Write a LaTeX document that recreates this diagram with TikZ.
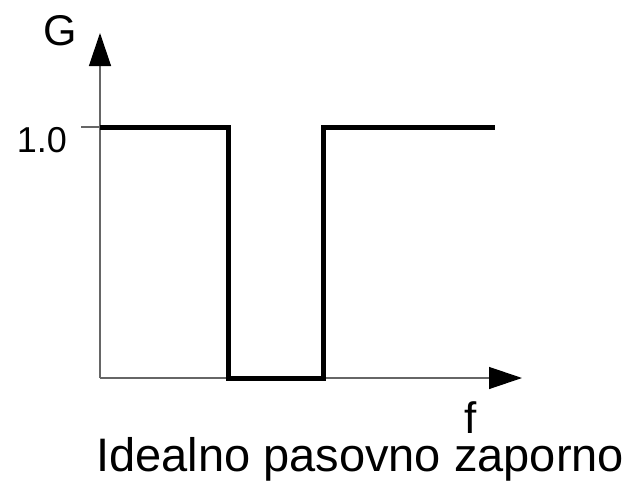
\documentclass[tikz,border=0pt]{standalone}
\usepackage{fontspec}
\setmainfont{Liberation Sans}
\usetikzlibrary{arrows.meta}
\begin{document}
\begin{tikzpicture}[x=1pt,y=-1pt,
  axis/.style={draw=black!60,line width=1.3pt,-{Triangle[length=33pt,width=22pt,fill=black,color=black]}},
  curve/.style={draw=black,line width=5pt,line join=miter},
  tickline/.style={draw=black!60,line width=1.3pt},
  lbl/.style={inner sep=0pt,font=\fontsize{#1}{#1}\selectfont}]
\useasboundingbox (0,0) rectangle (635,482);
\coordinate (O) at (100,378);
\coordinate (ytop) at (100,33);
\coordinate (xend) at (522,378);
\coordinate (tk) at (81,127);
\coordinate (tk0) at (100,127);
\coordinate (a) at (228,127);
\coordinate (b) at (228,378);
\coordinate (c) at (323,378);
\coordinate (d) at (323,127);
\coordinate (e) at (495,127);
\draw[axis] (O) -- (ytop);
\draw[axis] (O) -- (xend);
\draw[tickline] (tk) -- (tk0);
\draw[curve] (tk0) -- (a) -- (b) -- (c) -- (d) -- (e);
\node[lbl=43,anchor=base] (G) at (60,45) {G};
\node[lbl=36,anchor=base east] (one) at (67,152) {1.0};
\node[lbl=44,anchor=base] (f) at (471,433) {f};
\node[lbl=47,anchor=base west] (title) at (96,471.5) {Idealno pasovno zaporno};
\end{tikzpicture}
\end{document}
